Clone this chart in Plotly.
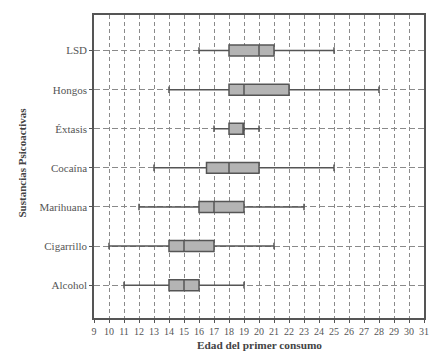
import plotly.graph_objects as go

categories = ["Alcohol", "Cigarrillo", "Marihuana", "Cocaína", "Éxtasis", "Hongos", "LSD"]
lower = [11, 10, 12, 13, 17, 14, 16]
q1 = [14, 14, 16, 16.5, 18, 18, 18]
median = [15, 15, 17, 18, 19, 19, 20]
q3 = [16, 17, 19, 20, 19, 22, 21]
upper = [19, 21, 23, 25, 20, 28, 25]
x_ticks = list(range(9, 32))

fig = go.Figure()
fig.add_trace(go.Box(
    y=categories, q1=q1, median=median, q3=q3,
    lowerfence=lower, upperfence=upper,
    orientation="h",
    fillcolor="#b4b4b4",
    line=dict(color="#555555", width=1.5),
    whiskerwidth=0.6,
    width=0.28,
    boxpoints=False,
    showlegend=False,
    hoverinfo="skip",
))

serif = "Liberation Serif, Times New Roman, serif"
# page body has an 8px default margin, so the figure is offset by 8px
fig.update_layout(
    width=435, height=347,
    margin=dict(l=86, r=19, t=7, b=37),
    paper_bgcolor="white", plot_bgcolor="white",
    font=dict(family=serif, color="#555555"),
    xaxis=dict(
        range=[9, 31], tickvals=x_ticks, ticktext=[str(v) for v in x_ticks],
        tickfont=dict(size=10, family=serif, color="#555555"),
        ticks="outside", ticklen=3, tickcolor="#555555",
        showgrid=True, gridcolor="#8a8a8a", griddash="4px,3px", gridwidth=1,
        showline=True, linecolor="#555555", linewidth=1.5, mirror=True,
        zeroline=False, automargin=False,
    ),
    yaxis=dict(
        categoryorder="array", categoryarray=categories,
        range=[-0.84, 6.91],
        tickfont=dict(size=11, family=serif, color="#555555"),
        ticks="outside", ticklen=3, tickcolor="#555555",
        showgrid=True, gridcolor="#8a8a8a", griddash="6px,3px", gridwidth=1,
        showline=True, linecolor="#555555", linewidth=1.5, mirror=True,
        zeroline=False, automargin=False,
    ),
    annotations=[
        dict(text="<b>Edad del primer consumo</b>", xref="paper", yref="paper",
             x=0.5, y=0, xanchor="center", yanchor="middle", yshift=-27,
             showarrow=False, font=dict(size=11.3, family=serif, color="#444444")),
        dict(text="<b>Sustancias Psicoactivas</b>", xref="paper", yref="paper",
             x=0, y=0.5, xanchor="center", yanchor="middle", xshift=-73, yshift=4,
             textangle=-90, showarrow=False,
             font=dict(size=11, family=serif, color="#444444")),
    ],
)
fig.write_html("out.html")
